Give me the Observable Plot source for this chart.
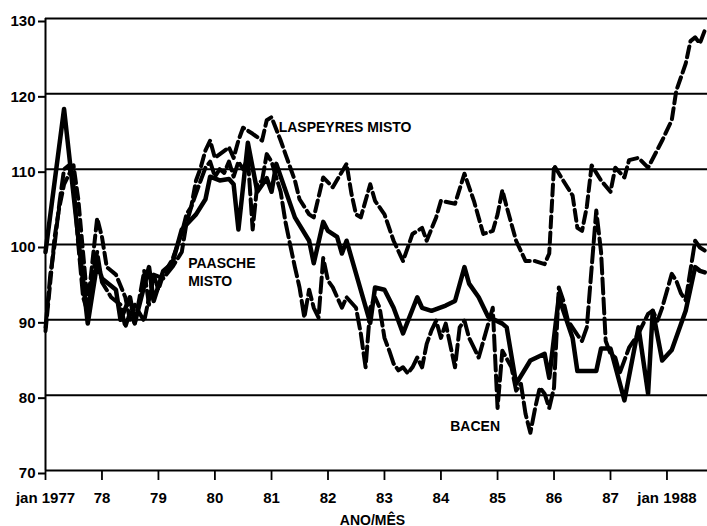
<!DOCTYPE html>
<html><head><meta charset="utf-8">
<script src="https://cdn.jsdelivr.net/npm/d3@7"></script>
<script src="https://cdn.jsdelivr.net/npm/@observablehq/plot@0.6"></script>
<style>body{margin:0;background:#fff;}</style>
</head><body><div id="chart"></div>
<script>
// Months are counted from jan 1977 (0 = jan 1977)
const laspeyresMonths = [0,1,2,3,4,6,7,9,11,12,13,15,17,18,19,21,23,24,25,27,29,30,31,32,33,34,35,36,39,40,41,42,44,46,47,48,50,51,53,54,56,57,59,61,64,65,66,67,69,70,72,74,76,78,80,81,83,84,87,89,91,93,95,96,97,98,100,102,104,106,107,108,110,112,113,114,115,116,118,120,121,123,124,126,128,131,133,134,136,137,138,139,140];
const laspeyresValues = [88.5,95,101,105,108,110.5,106,92,103.5,101,97,96,93,90,92,89.8,96,94,96,98,101.5,104,105,108.5,110.2,112.5,113.8,111.5,112.9,111.5,113.8,115.5,114.7,113.8,116.5,116.9,113.8,112,108.5,106,104,103.6,108.9,107.6,110.7,106.8,104,103.6,108,105.8,104,100.5,97.8,101.4,102.2,100.5,103.6,105.8,105.4,109.4,105.8,101.4,101.8,104,107.2,105,100.5,97.8,97.8,97.4,98.8,110.5,108.5,106.5,102.2,101.8,105,110.5,108.5,107,110.2,108.9,111.2,111.5,110.2,113.8,116.5,120.4,124,127,127.5,126.7,128.4];

const paascheMonths = [0,4,9,11,12,15,16,18,19,22,23,25,27,29,32,34,35,37,39,40,41,43,45,47,48,49,53,56,57,59,60,62,63,64,69,70,72,74,76,79,80,82,85,87,89,90,92,94,97,98,100,103,106,107,109,112,113,117,118,120,123,126,128,129,131,133,136,138,139,140];
const paascheValues = [99,118,89.5,97.5,95.5,94,90,93,89.6,97,92.5,96.5,97.5,102,104,106,109,108.5,108.7,108,102,113.5,107,108.8,107,110.7,103.6,100.5,97.5,103,101.8,101,98.8,100.5,89.6,94.3,94,91.6,88.2,93,91.6,91.2,91.9,92.5,97,94.8,93,90.4,89.5,89,81.5,84.6,85.5,82.3,93,87.6,83.2,83.2,86.2,86.2,79.3,89,80.2,91.2,84.6,86,91.2,97,96.5,96.3];

const bacenMonths = [0,1,2,3,4,5,6,7,8,9,10,11,12,14,16,17,18,19,20,21,22,23,25,27,29,30,31,33,34,35,36,37,38,39,40,41,42,43,44,45,46,47,48,50,51,52,53,54,55,56,57,58,59,60,61,63,64,66,67,68,69,70,71,72,73,74,75,76,77,78,79,80,81,82,83,84,85,87,88,89,90,92,95,96,97,99,100,101,102,103,104,105,106,107,108,109,110,111,113,114,115,117,118,119,120,121,122,124,126,128,129,130,131,133,134,135,136,138,139,140];
const bacenValues = [89,96,100,105.5,110,110.5,108,100,93,91,96,99,95,93,92,89,91,89.5,93,96.5,92,96,95.5,97,99,102.8,105,108.5,110.2,111,109,110,109.5,111,109,111,110,111.5,102,108,108.5,112,111,107,103,100,97,94.3,90.3,94,91.6,90.3,98.2,95.2,94.3,91.6,93,91.6,88.2,83.7,91.6,93,91.6,87.6,85.9,84.2,83.3,83.7,82.9,83.7,85,83.7,86.8,88.6,89.9,87.6,89.5,83.7,89,89.9,87.6,85,91.6,78.3,85.9,83.7,80.6,81.5,77.5,75,78.3,81,80.2,78.3,81,94.3,92.6,89.9,88,87.2,89,104.5,99,87.2,85.5,85,82.9,86.3,88.2,90.8,91.2,89.9,91.6,96.1,95.2,93.5,92.6,100.5,99.6,99.2];

const yTicks = [70,80,90,100,110,120,130];
const gridValues = [70,80,90,100,110,120,130];
const xTickYears = [1977,1978,1979,1980,1981,1982,1983,1984,1985,1986,1987,1988];
const xTickLabels = ["jan 1977","78","79","80","81","82","83","84","85","86","87","jan 1988"];
const axisTitle = "ANO/MÊS";

const seriesLabels = [
  {text: "LASPEYRES MISTO", date: "1981-02-16", value: 115.7},
  {text: "PAASCHE\nMISTO", date: "1979-07-12", value: 96.5},
  {text: "BACEN", date: "1984-03-01", value: 75.95}
];

const origin = new Date(Date.UTC(1977, 0, 1));
const toDate = m => d3.utcMonth.offset(origin, m);
const build = (ms, vs) => ms.map((m, i) => ({date: toDate(m), value: vs[i]}));
const laspeyres = build(laspeyresMonths, laspeyresValues);
const paasche = build(paascheMonths, paascheValues);
const bacen = build(bacenMonths, bacenValues);
const labels = seriesLabels.map(d => ({...d, date: new Date(d.date + "T00:00:00Z")}));
const xStart = origin;
const xEnd = new Date(Date.UTC(1988, 8, 19));

const chart = Plot.plot({
  width: 707,
  height: 526,
  marginLeft: 45,
  marginRight: 0,
  marginTop: 18,
  marginBottom: 56,
  x: {type: "utc", domain: [xStart, xEnd]},
  y: {domain: [70, 130]},
  style: {fontFamily: "Liberation Sans", fontSize: "15px", fontWeight: "bold", background: "white", color: "black"},
  marks: [
    Plot.ruleY(gridValues, {stroke: "black", strokeWidth: 2}),
    Plot.ruleX([xStart], {y1: 70, y2: 130, stroke: "black", strokeWidth: 2}),
    Plot.axisY(yTicks, {tickSize: 7, tickPadding: 3, strokeWidth: 2, dy: 3, label: null, fontSize: 15}),
    Plot.axisX(xTickYears.map(y => new Date(Date.UTC(y, 0, 1))), {
      tickSize: 10, tickPadding: 12, strokeWidth: 1.8, label: null, fontSize: 15,
      tickFormat: d => xTickLabels[d.getUTCFullYear() - 1977]
    }),
    Plot.line(bacen, {x: "date", y: "value", stroke: "black", strokeWidth: 4, strokeDasharray: "15,5", strokeLinejoin: "round"}),
    Plot.line(laspeyres, {x: "date", y: "value", stroke: "black", strokeWidth: 4, strokeDasharray: "11,5", strokeLinejoin: "round"}),
    Plot.line(paasche, {x: "date", y: "value", stroke: "black", strokeWidth: 4.5, strokeLinejoin: "round"}),
    Plot.text(labels, {x: "date", y: "value", text: "text", textAnchor: "start", lineAnchor: "middle", lineHeight: 1.29, fontSize: 14, fontWeight: "bold", fill: "black"}),
    Plot.text([axisTitle], {frameAnchor: "bottom", dy: 54, dx: -4, lineAnchor: "bottom", fontSize: 14, fontWeight: "bold", fill: "black"})
  ]
});
document.getElementById("chart").appendChild(chart);
</script>
</body></html>
